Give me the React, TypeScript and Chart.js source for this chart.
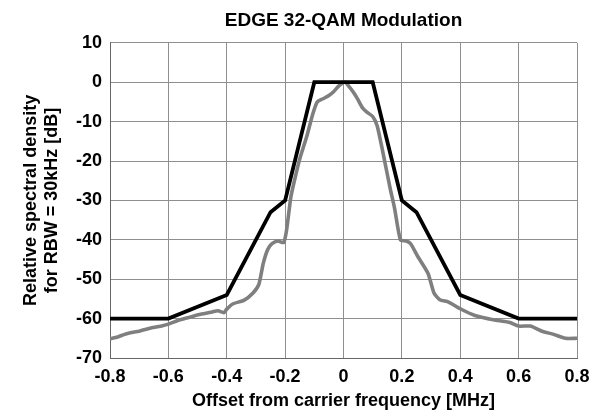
import React, { useEffect, useRef } from "react";
import { Chart, registerables } from "chart.js";

Chart.register(...registerables);

const maskX = [-0.8, -0.6, -0.4, -0.25, -0.2, -0.1, 0.1, 0.2, 0.25, 0.4, 0.6, 0.8];
const maskY = [-60, -60, -54, -33, -30, 0, 0, -30, -33, -54, -60, -60];

const spectrumX = [
  -0.8, -0.78, -0.75, -0.73, -0.7, -0.66, -0.62, -0.6, -0.56, -0.52, -0.49, -0.45, -0.43, -0.41, -0.4,
  -0.38, -0.34, -0.31, -0.29, -0.275, -0.26, -0.245, -0.225, -0.205, -0.195, -0.18, -0.165, -0.15,
  -0.125, -0.105, -0.09, -0.07, -0.05, -0.035, -0.015, 0.005, 0.02, 0.035, 0.05, 0.065, 0.08, 0.1,
  0.115, 0.13, 0.145, 0.16, 0.175, 0.195, 0.215, 0.23, 0.255, 0.29, 0.31, 0.33, 0.36, 0.4, 0.45, 0.5,
  0.53, 0.57, 0.6, 0.64, 0.68, 0.72, 0.76, 0.8,
];
const spectrumY = [
  -65.1, -64.8, -64.0, -63.6, -63.2, -62.4, -61.8, -61.4, -60.3, -59.5, -58.9, -58.3, -58.0, -58.5, -57.6,
  -56.3, -55.3, -53.5, -51.3, -46, -42.5, -41, -40.3, -40.7, -37.5, -29, -24, -19.5,
  -13.5, -8, -5, -4.2, -3.4, -2.5, -0.9, 0, -1.2, -2.7, -4.5, -6.5, -7.6, -8.7,
  -11, -16, -21.5, -27, -32, -40, -40.3, -41, -44.3, -48.6, -53.5, -55.2, -55.8, -57.5, -59.2, -60.1,
  -60.5, -61.0, -61.9, -61.9, -63.2, -64.0, -65.0, -65.0,
];

const xTicks = [-0.8, -0.6, -0.4, -0.2, 0, 0.2, 0.4, 0.6, 0.8];
const yTicks = [-70, -60, -50, -40, -30, -20, -10, 0, 10];

const titleText = "EDGE 32-QAM Modulation";
const xTitle = "Offset from carrier frequency [MHz]";
const yTitle = ["Relative spectral density", "for RBW = 30kHz [dB]"];

const FONT = "'Liberation Sans', Arial, Helvetica, sans-serif";

export default function App() {
  const ref = useRef<HTMLCanvasElement>(null);
  useEffect(() => {
    if (!ref.current) return;
    const gridColor = "#8f8f8f";
    const chart = new Chart(ref.current, {
      type: "line",
      data: {
        datasets: [
          {
            label: "Mask",
            data: maskX.map((x, i) => ({ x, y: maskY[i] })),
            borderColor: "#000000",
            borderWidth: 3.8,
            pointRadius: 0,
            tension: 0,
            order: 0,
          },
          {
            label: "Spectrum",
            data: spectrumX.map((x, i) => ({ x, y: spectrumY[i] })),
            borderColor: "#7f7f7f",
            borderWidth: 3.6,
            pointRadius: 0,
            tension: 0.2,
            order: 1,
          },
        ],
      },
      options: {
        animation: false,
        responsive: false,
        layout: { padding: { left: 0, right: 13, top: 0, bottom: 0 } },
        plugins: {
          legend: { display: false },
          tooltip: { enabled: false },
          title: {
            display: true,
            fullSize: false,
            text: titleText,
            color: "#000",
            font: { family: FONT, size: 19, weight: "bold" },
            padding: { top: 9, bottom: 11 },
          },
        },
        scales: {
          x: {
            type: "linear",
            min: -0.8,
            max: 0.8,
            afterBuildTicks: (s: any) => {
              s.ticks = xTicks.map((v) => ({ value: v }));
            },
            afterFit: (s: any) => {
              s.height = 56;
              s.paddingLeft = 0;
              s.paddingRight = 0;
            },
            ticks: {
              color: "#000",
              font: { family: FONT, size: 18, weight: "bold" },
              padding: 8,
              maxRotation: 0,
              autoSkip: false,
              callback: (v: any) => String(Math.round(Number(v) * 10) / 10),
            },
            grid: { color: gridColor, lineWidth: 1, drawTicks: false },
            border: { color: "#666", width: 1 },
            title: {
              display: true,
              text: xTitle,
              color: "#000",
              font: { family: FONT, size: 18, weight: "bold" },
              padding: { top: 0, bottom: 2 },
            },
          },
          y: {
            type: "linear",
            min: -70,
            max: 10,
            afterBuildTicks: (s: any) => {
              s.ticks = yTicks.map((v) => ({ value: v }));
            },
            afterFit: (s: any) => {
              s.width = 110;
              s.paddingTop = 0;
              s.paddingBottom = 0;
            },
            ticks: {
              color: "#000",
              font: { family: FONT, size: 18, weight: "bold" },
              padding: 8,
              autoSkip: false,
            },
            grid: { color: gridColor, lineWidth: 1, drawTicks: false },
            border: { color: "#666", width: 1 },
            title: {
              display: true,
              text: yTitle,
              color: "#000",
              font: { family: FONT, size: 18, weight: "bold" },
              padding: { top: 20, bottom: 0 },
            },
          },
        },
      },
    });
    return () => chart.destroy();
  }, []);
  return (
    <div style={{ position: "fixed", left: 0, top: 0, width: 590, height: 414, background: "#fff" }}>
      <canvas ref={ref} width={590} height={414} style={{ width: 590, height: 414, display: "block" }} />
    </div>
  );
}
